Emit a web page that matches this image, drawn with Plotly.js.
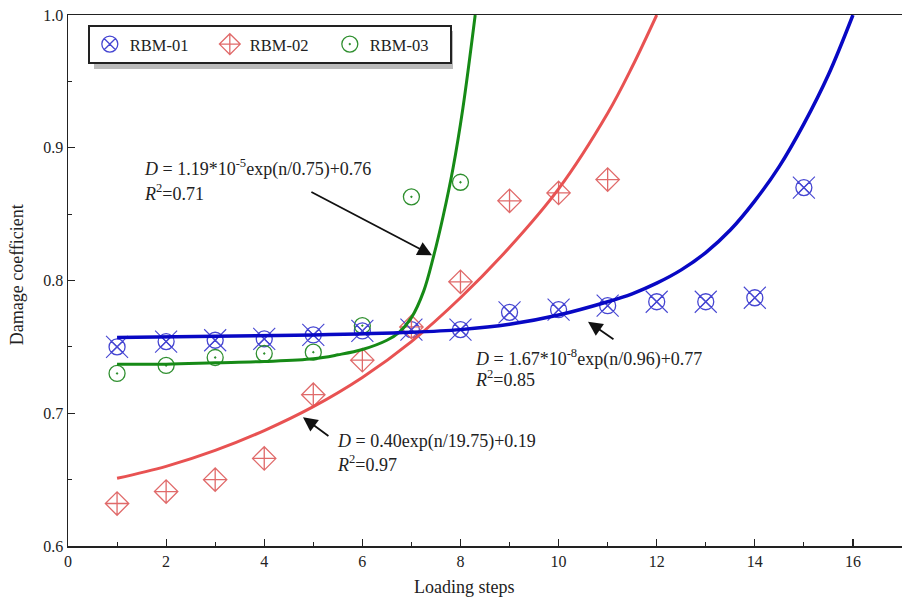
<!DOCTYPE html>
<html>
<head>
<meta charset="utf-8">
<script src="https://cdn.plot.ly/plotly-3.0.1.min.js"></script>
<style>html,body{margin:0;padding:0;background:#fff;}#chart{width:902px;height:608px;}</style>
</head>
<body>
<div id="chart"></div>
<script>
// Measured data (loading step n, damage coefficient D)
var steps01 = [1,2,3,4,5,6,7,8,9,10,11,12,13,14,15];
var rbm01   = [0.750,0.754,0.755,0.756,0.759,0.762,0.763,0.763,0.776,0.778,0.781,0.784,0.784,0.787,0.870];
var steps02 = [1,2,3,4,5,6,7,8,9,10,11];
var rbm02   = [0.632,0.641,0.650,0.666,0.714,0.740,0.765,0.799,0.860,0.866,0.876];
var steps03 = [1,2,3,4,5,6,7,8];
var rbm03   = [0.730,0.736,0.742,0.745,0.746,0.766,0.863,0.874];

// Fitted curves
var fitN01 = [1,3,5,7,8,9,10,11,11.5,12,12.5,13,13.5,14,14.5,15,15.5,16];
var fitD01 = [0.757,0.758,0.759,0.761,0.763,0.767,0.774,0.784,0.790,0.798,0.808,0.821,0.838,0.860,0.886,0.918,0.955,1.0];
var fitN02 = [1,2,3,4,5,6,7,8,9,10,11,11.5,12];
var fitD02 = [0.651,0.660,0.672,0.687,0.705,0.727,0.754,0.787,0.825,0.869,0.926,0.961,1.0];
var fitN03 = [1,2,3,4,5,5.5,6,6.5,6.75,7,7.25,7.45,7.65,7.85,8.05,8.3];
var fitD03 = [0.737,0.737,0.738,0.739,0.741,0.744,0.748,0.755,0.761,0.772,0.792,0.818,0.849,0.885,0.930,1.0];

var seriesNames = ['RBM-01','RBM-02','RBM-03'];
var xTitle = 'Loading steps';
var yTitle = 'Damage coefficient';

var FONT = 'Liberation Serif, Times New Roman, serif';
var cBlueM = '#4646d2', cRedM = '#e06a6a', cGreenM = '#2f8f2f';
var cBlueL = '#0808c4', cRedL = '#e85252', cGreenL = '#168a16';

var traces = [
  {x: steps01, y: rbm01, type:'scatter', mode:'markers', name: seriesNames[0],
   marker:{symbol:'circle-x-open', size:16, color:cBlueM, line:{width:1.3, color:cBlueM}}},
  {x: steps02, y: rbm02, type:'scatter', mode:'markers', name: seriesNames[1],
   marker:{symbol:'diamond-cross-open', size:18, color:cRedM, line:{width:1.3, color:cRedM}}},
  {x: steps03, y: rbm03, type:'scatter', mode:'markers', name: seriesNames[2],
   marker:{symbol:'circle-open-dot', size:16, color:cGreenM, line:{width:1.3, color:cGreenM}}},
  {x: steps01, y: rbm01, type:'scatter', mode:'markers', showlegend:false, hoverinfo:'skip',
   marker:{symbol:'x-thin-open', size:22, color:cBlueM, line:{width:1.1, color:cBlueM}}},
  {x: fitN03, y: fitD03, type:'scatter', mode:'lines', showlegend:false,
   line:{color:cGreenL, width:3, shape:'spline', smoothing:1}},
  {x: fitN02, y: fitD02, type:'scatter', mode:'lines', showlegend:false,
   line:{color:cRedL, width:3, shape:'spline', smoothing:1}},
  {x: fitN01, y: fitD01, type:'scatter', mode:'lines', showlegend:false,
   line:{color:cBlueL, width:3.5, shape:'spline', smoothing:1}}
];

var annFont = {family: FONT, size: 18, color:'#222'};
function arrow(hx, hy, tx, ty){
  return {x:hx, y:hy, ax:tx, ay:ty, xref:'x', yref:'y', axref:'x', ayref:'y',
          text:' ', showarrow:true, arrowhead:2, arrowsize:1.6, arrowwidth:1.8, arrowcolor:'#111'};
}
function label(x, y, txt){
  return {x:x, y:y, xref:'x', yref:'y', text:txt, showarrow:false,
          xanchor:'left', yanchor:'middle', align:'left', font:annFont};
}

var layout = {
  width: 902, height: 608,
  margin: {l:68, r:0, t:15, b:62},
  paper_bgcolor:'#fff', plot_bgcolor:'#fff',
  font: {family: FONT, size: 15, color:'#222'},
  showlegend: true,
  legend: {x:0.024, y:0.981, xanchor:'left', yanchor:'top', orientation:'h',
           bgcolor:'#fff', bordercolor:'#222', borderwidth:1.8,
           font:{family:FONT, size:16.5, color:'#222'},
           entrywidth:75, entrywidthmode:'pixels'},
  xaxis: {range:[0,17], tick0:0, dtick:2, ticks:'inside', ticklen:7, tickwidth:1.2, tickcolor:'#222',
          showline:true, linecolor:'#222', linewidth:1.5, mirror:true,
          showgrid:false, zeroline:false,
          tickfont:{family:FONT, size:16, color:'#222'},
          minor:{dtick:1, ticks:'inside', ticklen:4, tickcolor:'#222', tickwidth:1.1, showgrid:false}},
  yaxis: {range:[0.6,1.0], tick0:0.6, dtick:0.1, tickformat:'.1f', ticks:'inside', ticklen:7, tickwidth:1.2, tickcolor:'#222',
          showline:true, linecolor:'#222', linewidth:1.5, mirror:false,
          showgrid:false, zeroline:false,
          tickfont:{family:FONT, size:16, color:'#222'},
          minor:{dtick:0.05, ticks:'inside', ticklen:4, tickcolor:'#222', tickwidth:1.1, showgrid:false}},
  annotations: [
    {x:0.476, y:-0.078, xref:'paper', yref:'paper', text:xTitle, showarrow:false,
     xanchor:'center', yanchor:'middle', font:{family:FONT, size:18, color:'#222'}},
    {x:-0.061, y:0.51, xref:'paper', yref:'paper', text:yTitle, showarrow:false, textangle:-90,
     xanchor:'center', yanchor:'middle', font:{family:FONT, size:18, color:'#222'}},
    label(1.51, 0.8847, '<i>D</i> = 1.19*10<sup>-5</sup>exp(n/0.75)+0.76'),
    label(1.51, 0.8660, '<i>R</i><sup>2</sup>=0.71'),
    label(8.26, 0.7420, '<i>D</i> = 1.67*10<sup>-8</sup>exp(n/0.96)+0.77'),
    label(8.26, 0.7265, '<i>R</i><sup>2</sup>=0.85'),
    label(5.44, 0.6790, '<i>D</i> = 0.40exp(n/19.75)+0.19'),
    label(5.44, 0.6620, '<i>R</i><sup>2</sup>=0.97'),
    arrow(7.42, 0.819, 4.89, 0.868),
    arrow(10.60, 0.769, 11.19, 0.754),
    arrow(4.79, 0.697, 5.38, 0.681)
  ],
  shapes: [
    {type:'rect', xref:'paper', yref:'paper', layer:'above',
     x0:(94-68)/834, x1:(453-68)/834, y0:1-(69-15)/531, y1:1-(31-15)/531,
     fillcolor:'rgba(120,120,120,0.5)', line:{width:0}}
  ]
};

Plotly.newPlot('chart', traces, layout, {displayModeBar:false, staticPlot:true});
</script>
</body>
</html>
